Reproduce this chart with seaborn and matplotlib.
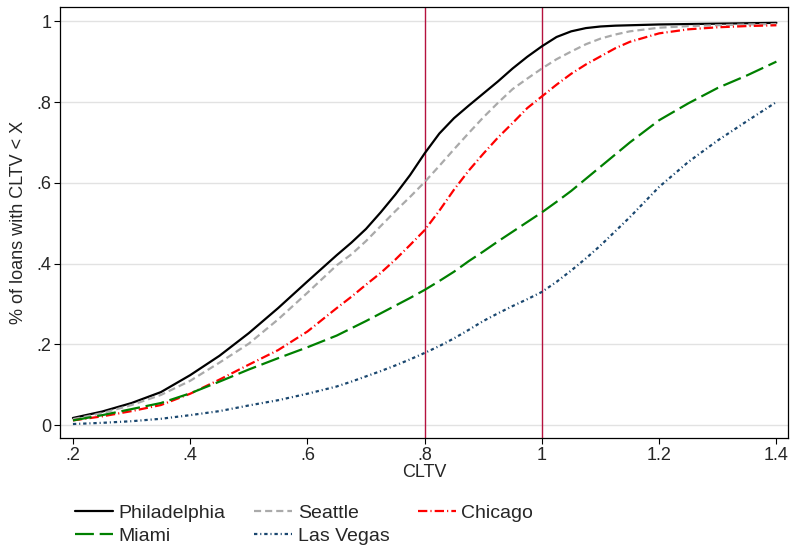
import pandas as pd
import matplotlib
matplotlib.use("Agg")
import matplotlib.pyplot as plt
import seaborn as sns

# CLTV grid and CDF values
cltv = [0.20, 0.25, 0.30, 0.35, 0.40, 0.45, 0.50, 0.55, 0.60, 0.65,
        0.675, 0.70, 0.725, 0.75, 0.775, 0.80, 0.825, 0.85, 0.875, 0.90,
        0.925, 0.95, 0.975, 1.00, 1.025, 1.05, 1.075, 1.10, 1.125, 1.15,
        1.20, 1.25, 1.30, 1.35, 1.40]

philadelphia = [0.018, 0.034, 0.055, 0.082, 0.124, 0.172, 0.228, 0.290, 0.356, 0.421,
                0.452, 0.486, 0.527, 0.571, 0.619, 0.673, 0.722, 0.760, 0.791, 0.821,
                0.851, 0.883, 0.912, 0.938, 0.961, 0.975, 0.983, 0.987, 0.989, 0.990,
                0.992, 0.993, 0.994, 0.995, 0.996]
seattle = [0.015, 0.030, 0.050, 0.075, 0.110, 0.155, 0.202, 0.262, 0.328, 0.396,
           0.423, 0.456, 0.493, 0.530, 0.565, 0.602, 0.642, 0.683, 0.723, 0.762,
           0.798, 0.832, 0.858, 0.883, 0.906, 0.925, 0.943, 0.957, 0.967, 0.975,
           0.984, 0.988, 0.990, 0.992, 0.993]
chicago = [0.012, 0.022, 0.035, 0.050, 0.078, 0.113, 0.150, 0.186, 0.232, 0.290,
           0.318, 0.348, 0.377, 0.410, 0.446, 0.483, 0.531, 0.583, 0.630, 0.672,
           0.712, 0.748, 0.785, 0.814, 0.843, 0.870, 0.893, 0.913, 0.933, 0.949,
           0.970, 0.980, 0.985, 0.988, 0.990]
miami = [0.012, 0.025, 0.040, 0.055, 0.079, 0.108, 0.138, 0.166, 0.193, 0.222,
         0.240, 0.258, 0.277, 0.296, 0.315, 0.335, 0.357, 0.380, 0.406, 0.430,
         0.455, 0.479, 0.503, 0.527, 0.553, 0.580, 0.610, 0.640, 0.670, 0.700,
         0.755, 0.797, 0.835, 0.866, 0.900]
las_vegas = [0.003, 0.006, 0.010, 0.016, 0.025, 0.035, 0.049, 0.062, 0.078, 0.096,
             0.108, 0.121, 0.134, 0.148, 0.163, 0.179, 0.196, 0.215, 0.236, 0.258,
             0.277, 0.295, 0.312, 0.330, 0.355, 0.383, 0.413, 0.445, 0.480, 0.515,
             0.590, 0.652, 0.705, 0.753, 0.800]

cities = ["Philadelphia", "Seattle", "Chicago", "Miami", "Las Vegas"]
series = [philadelphia, seattle, chicago, miami, las_vegas]
colors = ["black", "#aaaaaa", "#ff0000", "#008000", "#1a476f"]
dashes = ["", (3.2, 1.8), (4.2, 1.4, 0.5, 1.4), (8.5, 2.6), (1.5, 1.3, 0.5, 1.3)]

x_ticks = [0.2, 0.4, 0.6, 0.8, 1.0, 1.2, 1.4]
x_tick_labels = [".2", ".4", ".6", ".8", "1", "1.2", "1.4"]
y_ticks = [0, 0.2, 0.4, 0.6, 0.8, 1.0]
y_tick_labels = ["0", ".2", ".4", ".6", ".8", "1"]
cutoffs = [0.8, 1.0]

rows = []
for city, vals in zip(cities, series):
    for x, y in zip(cltv, vals):
        rows.append({"cltv": x, "share": y, "city": city})
df = pd.DataFrame(rows)

sns.set_style("ticks")
plt.rcParams["font.family"] = ["Liberation Sans", "DejaVu Sans"]

fig = plt.figure(figsize=(7.9, 5.45), dpi=100)
ax = fig.add_axes([0.076, 0.196, 0.922, 0.791])

for yv in y_ticks:
    ax.axhline(yv, color="#e2e2e2", lw=1.0, zorder=0)
for xv in cutoffs:
    ax.axvline(xv, color="#b5123e", lw=1.0, zorder=1)

sns.lineplot(data=df, x="cltv", y="share", hue="city", style="city",
             hue_order=cities, style_order=cities,
             palette=dict(zip(cities, colors)),
             dashes=dict(zip(cities, dashes)),
             linewidth=1.6, estimator=None, sort=False, ax=ax, zorder=3)

ax.set_xlim(0.178, 1.4205)
ax.set_ylim(-0.032, 1.035)
ax.set_xticks(x_ticks)
ax.set_xticklabels(x_tick_labels)
ax.set_yticks(y_ticks)
ax.set_yticklabels(y_tick_labels)
ax.tick_params(axis="both", labelsize=13, length=4, width=0.8, color="black", pad=2)
ax.set_xlabel("CLTV", fontsize=13, labelpad=0)
ax.set_ylabel("% of loans with CLTV < X", fontsize=13, labelpad=7)
for side in ["left", "bottom", "right", "top"]:
    ax.spines[side].set_visible(True)
    ax.spines[side].set_color("black")
    ax.spines[side].set_linewidth(0.9)

# row-wise legend order: matplotlib fills columns first
handles, labels = ax.get_legend_handles_labels()
lookup = dict(zip(labels, handles))
order = ["Philadelphia", "Miami", "Seattle", "Las Vegas", "Chicago"]
ax.get_legend().remove()
fig.legend([lookup[c] for c in order], order, loc="upper left",
           bbox_to_anchor=(75 / 790, 1 - 504 / 545),
           ncol=3, frameon=False, fontsize=14, handlelength=1.95, handletextpad=0.3,
           columnspacing=1.45, labelspacing=0.28, borderpad=0, borderaxespad=0)

fig.savefig("out.png", dpi=100)
